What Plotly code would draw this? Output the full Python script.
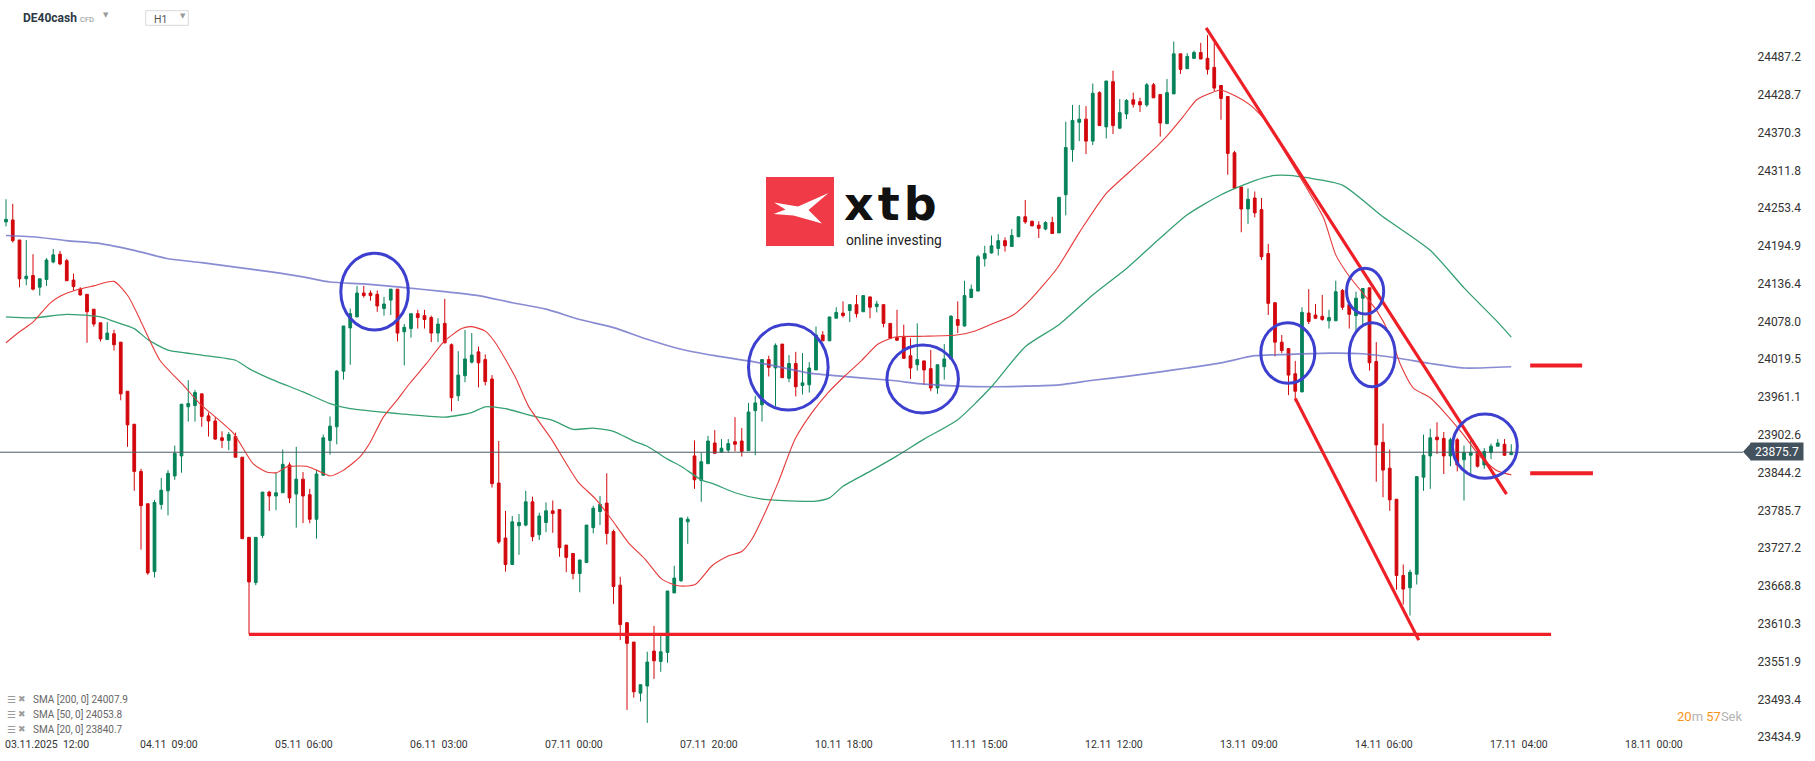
import plotly.graph_objects as go

# ---------------- data ----------------
open_ = [24232, 24235, 24204, 24144, 24149, 24131, 24143, 24170, 24182, 24172,
         24142, 24128, 24120, 24097, 24076, 24050, 24059, 24046, 23970, 23919,
         23846, 23796, 23691, 23795, 23816, 23839, 23870, 23946, 23948, 23966,
         23932, 23924, 23898, 23894, 23900, 23868, 23744, 23674, 23747, 23814,
         23808, 23813, 23856, 23811, 23834, 23810, 23772, 23840, 23894, 23915,
         24001, 24068, 24085, 24122, 24122, 24120, 24098, 24111, 24128, 24062,
         24067, 24090, 24087, 24084, 24060, 24075, 24042, 23963, 23994, 24015,
         24031, 24019, 23989, 23828, 23743, 23702, 23762, 23763, 23799, 23748,
         23767, 23785, 23787, 23732, 23719, 23688, 23705, 23759, 23784, 23797,
         23753, 23670, 23612, 23582, 23503, 23514, 23568, 23552, 23566, 23658,
         23677, 23768, 23870, 23832, 23858, 23890, 23876, 23879, 23892, 23893,
         23878, 23940, 23949, 24019, 24006, 24043, 23990, 24013, 23979, 23980,
         24003, 24057, 24048, 24083, 24091, 24095, 24104, 24093, 24116, 24101,
         24104, 24075, 24053, 24055, 24025, 24011, 24017, 24005, 23975, 24008,
         24020, 24081, 24071, 24115, 24125, 24175, 24184, 24191, 24203, 24194,
         24209, 24240, 24233, 24227, 24221, 24231, 24215, 24274, 24344, 24386,
         24391, 24357, 24432, 24379, 24449, 24377, 24399, 24421, 24418, 24413,
         24444, 24429, 24384, 24430, 24492, 24469, 24485, 24494, 24485, 24471,
         24443, 24426, 24339, 24286, 24252, 24269, 24251, 24183, 24107, 24046,
         24036, 23997, 23969, 24091, 24088, 24086, 24079, 24079, 24126, 24104,
         24087, 24114, 24130, 24016, 23891, 23851, 23803, 23685, 23666, 23687,
         23837, 23870, 23899, 23897, 23870, 23895, 23864, 23871, 23876, 23856,
         23875, 23885, 23888, 23872]
high = [24267, 24260, 24204, 24204, 24182, 24144, 24176, 24190, 24187, 24175,
        24152, 24131, 24120, 24097, 24076, 24077, 24065, 24046, 23970, 23919,
        23850, 23796, 23802, 23836, 23848, 23886, 23950, 23987, 23972, 23966,
        23937, 23930, 23908, 23907, 23906, 23868, 23744, 23744, 23814, 23816,
        23844, 23880, 23860, 23884, 23845, 23819, 23848, 23903, 23931, 24003,
        24071, 24098, 24133, 24133, 24126, 24126, 24116, 24128, 24128, 24074,
        24090, 24096, 24096, 24087, 24083, 24113, 24044, 24032, 24065, 24060,
        24039, 24027, 23995, 23893, 23785, 23777, 23780, 23816, 23807, 23782,
        23798, 23801, 23787, 23732, 23719, 23709, 23763, 23793, 23808, 23843,
        23756, 23683, 23612, 23582, 23516, 23567, 23607, 23592, 23661, 23700,
        23774, 23776, 23894, 23875, 23901, 23910, 23896, 23896, 23930, 23913,
        23952, 23963, 24019, 24025, 24044, 24043, 24026, 24031, 24029, 24015,
        24070, 24063, 24085, 24100, 24109, 24104, 24119, 24118, 24116, 24110,
        24104, 24075, 24096, 24073, 24052, 24075, 24017, 24034, 24011, 24043,
        24088, 24109, 24141, 24135, 24181, 24195, 24211, 24213, 24208, 24221,
        24240, 24266, 24234, 24233, 24233, 24240, 24270, 24387, 24413, 24413,
        24411, 24446, 24434, 24450, 24466, 24422, 24422, 24432, 24424, 24447,
        24447, 24429, 24453, 24511, 24492, 24493, 24497, 24509, 24521, 24509,
        24443, 24426, 24342, 24286, 24284, 24279, 24269, 24198, 24107, 24057,
        24036, 24017, 24100, 24128, 24105, 24119, 24096, 24141, 24128, 24104,
        24124, 24129, 24130, 24046, 23920, 23880, 23803, 23702, 23694, 23838,
        23903, 23912, 23922, 23907, 23898, 23898, 23886, 23895, 23885, 23882,
        23889, 23896, 23896, 23888]
low = [24225, 24200, 24131, 24134, 24126, 24118, 24133, 24168, 24165, 24141,
       24126, 24118, 24045, 24070, 24047, 24050, 24033, 23956, 23884, 23816,
       23725, 23686, 23682, 23787, 23778, 23833, 23844, 23923, 23923, 23915,
       23900, 23895, 23882, 23879, 23868, 23742, 23594, 23670, 23743, 23785,
       23786, 23813, 23797, 23759, 23766, 23766, 23742, 23839, 23872, 23888,
       23988, 24011, 24085, 24115, 24110, 24093, 24087, 24088, 24047, 24010,
       24053, 24067, 24067, 24046, 24046, 24044, 23939, 23955, 23984, 24013,
       23976, 23979, 23821, 23734, 23691, 23702, 23717, 23761, 23738, 23740,
       23752, 23751, 23714, 23690, 23679, 23659, 23705, 23750, 23763, 23733,
       23641, 23585, 23477, 23496, 23490, 23457, 23525, 23536, 23550, 23658,
       23675, 23734, 23819, 23799, 23858, 23874, 23875, 23875, 23877, 23869,
       23878, 23871, 23923, 23993, 23947, 23991, 23984, 23962, 23965, 23968,
       24003, 24048, 24048, 24083, 24084, 24077, 24084, 24093, 24083, 24092,
       24069, 24051, 24048, 24020, 23989, 24002, 23980, 23970, 23966, 23988,
       24020, 24060, 24070, 24115, 24125, 24163, 24183, 24180, 24186, 24194,
       24209, 24229, 24225, 24207, 24219, 24214, 24215, 24242, 24325, 24357,
       24337, 24351, 24381, 24361, 24368, 24376, 24391, 24409, 24402, 24410,
       24424, 24364, 24384, 24430, 24461, 24469, 24484, 24484, 24460, 24434,
       24390, 24305, 24284, 24216, 24229, 24239, 24173, 24088, 24024, 24029,
       23964, 23954, 23969, 24074, 24082, 24079, 24067, 24079, 24096, 24067,
       24063, 24073, 24002, 23830, 23806, 23785, 23663, 23640, 23623, 23671,
       23816, 23819, 23873, 23842, 23854, 23846, 23801, 23842, 23852, 23850,
       23865, 23885, 23870, 23871]
close = [24236, 24203, 24144, 24148, 24128, 24144, 24173, 24181, 24167, 24141,
         24132, 24119, 24093, 24074, 24051, 24060, 24042, 23966, 23918, 23846,
         23793, 23689, 23798, 23817, 23843, 23874, 23950, 23951, 23968, 23931,
         23924, 23896, 23894, 23903, 23868, 23742, 23675, 23744, 23814, 23808,
         23813, 23857, 23805, 23834, 23808, 23772, 23842, 23898, 23916, 24001,
         24071, 24090, 24122, 24118, 24118, 24102, 24105, 24128, 24060, 24069,
         24090, 24084, 24081, 24060, 24074, 24045, 23960, 23995, 24020, 24026,
         24014, 23985, 23827, 23737, 23702, 23768, 23767, 23799, 23745, 23777,
         23785, 23781, 23728, 23713, 23688, 23709, 23763, 23789, 23795, 23750,
         23668, 23609, 23580, 23505, 23516, 23551, 23553, 23567, 23661, 23681,
         23774, 23772, 23833, 23861, 23893, 23874, 23882, 23889, 23888, 23877,
         23938, 23952, 24019, 24007, 24041, 23991, 24013, 23977, 23983, 24006,
         24057, 24048, 24085, 24092, 24087, 24104, 24090, 24118, 24100, 24105,
         24075, 24052, 24049, 24021, 24006, 24019, 24003, 23975, 24011, 24020,
         24086, 24072, 24118, 24128, 24178, 24183, 24195, 24203, 24195, 24211,
         24240, 24232, 24226, 24222, 24231, 24214, 24270, 24347, 24389, 24391,
         24357, 24431, 24381, 24450, 24381, 24401, 24420, 24414, 24413, 24444,
         24424, 24385, 24432, 24492, 24468, 24488, 24494, 24484, 24468, 24439,
         24423, 24338, 24284, 24252, 24267, 24246, 24178, 24106, 24046, 24033,
         23995, 23970, 24092, 24078, 24083, 24081, 24084, 24124, 24100, 24089,
         24114, 24129, 24014, 23887, 23848, 23802, 23685, 23664, 23690, 23838,
         23871, 23898, 23895, 23870, 23895, 23856, 23875, 23875, 23854, 23877,
         23885, 23890, 23871, 23875.7]
candle_idx = list(range(len(open_)))

# moving averages sampled along the lines (candle index, value)
sma200_x = [0, 4, 9, 14, 19, 24, 29, 34, 39, 44, 48, 53, 58, 65, 70, 75, 80, 85, 90, 95,
            100, 105, 110, 114, 119, 124, 131, 136, 141, 146, 151, 156, 161, 166, 171,
            175, 180, 185, 190, 196, 201, 206, 211, 216, 223]
sma200_y = [24211, 24209, 24203, 24198.5, 24188, 24175, 24169, 24162, 24155, 24147,
            24139, 24136, 24131.5, 24124, 24118, 24107, 24097, 24081, 24068.5, 24050.5,
            24035, 24025, 24017, 24009, 23998, 23993, 23987, 23981, 23978, 23977,
            23978, 23980, 23987, 23993, 24000, 24006, 24014, 24025, 24027, 24029,
            24028, 24021.5, 24013, 24006, 24007.9]
sma50_x = [0, 4, 9, 14, 16, 19, 21, 24, 29, 34, 36, 39, 44, 48, 51, 58, 65, 69, 71, 74,
           78, 81, 84, 87, 90, 93, 95, 98, 100, 103, 105, 108, 112, 117, 120, 122, 124,
           128, 132, 136, 141, 146, 151, 156, 161, 166, 171, 175, 180, 185, 188, 190,
           193, 198, 204, 211, 216, 221, 223]
sma50_y = [24085, 24083.5, 24089, 24085, 24078, 24067, 24050, 24033.5, 24026, 24018,
           24005, 23990, 23969, 23951, 23943, 23935.5, 23930, 23937, 23946, 23943,
           23932, 23925, 23911, 23913, 23908, 23893, 23885, 23865, 23854, 23833,
           23826, 23813, 23803, 23800, 23800, 23805, 23823, 23846, 23870, 23896,
           23926, 23977, 24039, 24073, 24119, 24160, 24207, 24243, 24274, 24296,
           24304, 24304, 24300, 24289, 24240, 24188, 24130, 24077, 24053.8]
sma20_x = [0, 2, 4, 6.5, 8, 10.5, 13, 16, 18.1, 19.9, 22.8, 26.3, 28.7, 33.7, 36.6,
           38.6, 40.1, 41.6, 44.5, 46, 48, 50, 52.4, 53.9, 55.9, 57.9, 59.8, 62.3, 64.8,
           67.5, 69, 71, 72.5, 75.5, 77.4, 80.8, 84.8, 87.3, 89.7, 92.2, 94.7, 97.2,
           99.6, 102.1, 104.6, 107, 109, 110.5, 112, 114.4, 116.9, 119.4, 121.8, 124.3,
           126.7, 129.2, 131.7, 135.9, 140.8, 143.2, 145.8, 149.2, 151.7, 155.7, 159.1,
           163, 166.5, 170.5, 171.9, 174.4, 176.4, 178.4, 179.9, 182.3, 184.3, 186.8,
           189.3, 192.7, 195.2, 197, 199, 201, 203, 205, 206.6, 208.5, 211, 213.4,
           215.9, 218.4, 220.9, 223]
sma20_y = [24045, 24062, 24077, 24106, 24117, 24127, 24133, 24140, 24117, 24080,
           24018, 23979, 23951, 23905, 23858, 23845, 23844, 23853, 23854, 23848,
           23839, 23848, 23868, 23890, 23930, 23956, 23982, 24013, 24046, 24067,
           24070, 24063, 24045, 23991, 23947, 23896, 23829, 23804, 23772, 23736,
           23710, 23679, 23669, 23671, 23700, 23715, 23722, 23741, 23772, 23829,
           23896, 23937, 23968, 23994, 24017, 24043, 24054, 24055, 24057, 24062,
           24073, 24088, 24111, 24160, 24217, 24276, 24310, 24349, 24364, 24395,
           24421, 24431, 24436, 24426, 24413, 24387, 24343, 24284, 24238, 24181,
           24148, 24122, 24096, 24058, 24011, 23975, 23960, 23934, 23903, 23869,
           23847, 23840.7]

last_price = 23875.7
sma_legend = ["SMA [200, 0] 24007.9", "SMA [50, 0] 24053.8", "SMA [20, 0] 23840.7"]

x_tick_idx = [0, 20, 40, 60, 80, 100, 120, 140, 160, 180, 200, 220, 240]
x_tick_labels = ["03.11.2025  12:00", "04.11  09:00", "05.11  06:00", "06.11  03:00",
                 "07.11  00:00", "07.11  20:00", "10.11  18:00", "11.11  15:00",
                 "12.11  12:00", "13.11  09:00", "14.11  06:00", "17.11  04:00",
                 "18.11  00:00"]
y_tick_vals = [24487.2, 24428.7, 24370.3, 24311.8, 24253.4, 24194.9, 24136.4, 24078.0,
               24019.5, 23961.1, 23902.6, 23844.2, 23785.7, 23727.2, 23668.8, 23610.3,
               23551.9, 23493.4, 23434.9]

# drawn annotations (candle index, price)
support_line = [(36, 23594), (228.9, 23594)]
trend_upper = [(177.8, 24532), (222.3, 23811)]
trend_lower = [(191, 23959), (209.3, 23585)]
level_marks = [[(225.8, 24010), (233.5, 24010)], [(225.8, 23843), (235.1, 23843)]]
circles = [(49.6, 59.6, 24064.8, 24183.4), (110, 121.8, 23941, 24073.6),
           (130.5, 141.1, 23936.4, 24041.5), (185.9, 193.9, 23982.3, 24076),
           (198.6, 204.1, 24089.5, 24160.2), (199, 205.8, 23977, 24076),
           (214.3, 223.9, 23835.3, 23934.8)]

# ---------------- figure ----------------
W, H = 1815, 761
ML, MR, MT, MB = 0, 70, 0, 0
PW, PH = W - ML - MR, H - MT - MB
PITCH, X0 = 6.75, 6.0


def px(x):
    return (x - ML) / PW


def py(y):
    return 1 - (y - MT) / PH


GREEN = "#06825a"
RED = "#d2070c"
LINE_RED = "#ee1f26"
CIRCLE = "#3d40cf"
FONT = "Roboto"

fig = go.Figure()
fig.add_trace(go.Scatter(x=sma200_x, y=sma200_y, mode="lines", hoverinfo="skip",
                         line=dict(color="rgba(104,108,198,0.78)", width=1.7,
                                   shape="spline", smoothing=0.6)))
fig.add_trace(go.Scatter(x=sma50_x, y=sma50_y, mode="lines", hoverinfo="skip",
                         line=dict(color="#35a072", width=1.3, shape="spline", smoothing=0.6)))
fig.add_trace(go.Scatter(x=sma20_x, y=sma20_y, mode="lines", hoverinfo="skip",
                         line=dict(color="#e63a3a", width=1.1, shape="spline", smoothing=0.6)))
fig.add_trace(go.Candlestick(
    x=candle_idx, open=open_, high=high, low=low, close=close,
    increasing=dict(line=dict(color=GREEN, width=1), fillcolor=GREEN),
    decreasing=dict(line=dict(color=RED, width=1), fillcolor=RED),
    whiskerwidth=0, hoverinfo="skip"))

shapes = []
# current price line
shapes.append(dict(type="line", xref="paper", yref="y", x0=0, x1=px(1743),
                   y0=last_price, y1=last_price, line=dict(color="#4f5b66", width=1)))
# drawings
for (a, b) in [support_line, trend_upper, trend_lower]:
    shapes.append(dict(type="line", xref="x", yref="y", x0=a[0], y0=a[1], x1=b[0], y1=b[1],
                       line=dict(color=LINE_RED, width=3.2)))
for (a, b) in level_marks:
    shapes.append(dict(type="line", xref="x", yref="y", x0=a[0], y0=a[1], x1=b[0], y1=b[1],
                       line=dict(color=LINE_RED, width=4)))
for (x0, x1, y0, y1) in circles:
    shapes.append(dict(type="circle", xref="x", yref="y", x0=x0, x1=x1, y0=y0, y1=y1,
                       line=dict(color=CIRCLE, width=3)))


def path(pts):
    return "M " + " L ".join(f"{px(x):.5f},{py(y):.5f}" for x, y in pts) + " Z"


# xtb logo mark
shapes.append(dict(type="rect", xref="paper", yref="paper", x0=px(766), x1=px(834),
                   y0=py(246), y1=py(177), fillcolor="#f03a47", line=dict(width=0)))
shapes.append(dict(type="path", xref="paper", yref="paper",
                   path=path([(774, 202.5), (798, 206.5), (828.5, 193), (808.5, 210),
                              (822, 223.5), (793.5, 215.5), (773.5, 214), (785.5, 209.5)]),
                   fillcolor="white", line=dict(width=0)))
# H1 box
shapes.append(dict(type="rect", xref="paper", yref="paper", x0=px(145.7), x1=px(188.3),
                   y0=py(25.3), y1=py(10.7), line=dict(color="#d9d9d9", width=1)))
# price tag arrow
shapes.append(dict(type="path", xref="paper", yref="paper",
                   path=path([(1743, 451.7), (1751, 443), (1751, 460.5)]),
                   fillcolor="#44525e", line=dict(width=0)))

ann = []
for i, lab in zip(x_tick_idx, x_tick_labels):
    ann.append(dict(x=i, xref="x", y=py(744), yref="paper", text=lab.replace("  ", " \u00a0"),
                    xanchor="left", yanchor="middle", xshift=-3, showarrow=False,
                    font=dict(family=FONT, size=10.5, color="#333333")))
# price tag
ann.append(dict(x=px(1750.5), xref="paper", y=py(451.7), yref="paper", text=f"{last_price:.1f}",
                xanchor="left", yanchor="middle", showarrow=False, bgcolor="#44525e",
                width=52, height=17, align="center", borderpad=0,
                font=dict(family=FONT, size=12, color="white")))
# header
hdr = [
    dict(x=px(20.5), y=py(18.5), text="<b>DE40cash</b>", font=dict(family=FONT, size=12, color="#2c3944")),
    dict(x=px(78), y=py(19.5), text="CFD", font=dict(family=FONT, size=7.5, color="#8c8c8c")),
    dict(x=px(101), y=py(15.5), text="▼", font=dict(family="DejaVu Sans", size=7, color="#9a9a9a")),
    dict(x=px(151.5), y=py(19), text="H1", font=dict(family=FONT, size=10.5, color="#555555")),
    dict(x=px(177.5), y=py(16), text="▼", font=dict(family="DejaVu Sans", size=7, color="#9a9a9a")),
]
for a in hdr:
    a.update(xref="paper", yref="paper", xanchor="left", yanchor="middle", showarrow=False)
ann += hdr
# logo text (brand word above, tagline below, boxes kept apart)
ann.append(dict(x=px(844), y=py(231), xref="paper", yref="paper",
                text='<span style="letter-spacing:4px">xtb</span>',
                xanchor="left", yanchor="bottom", showarrow=False, borderpad=0, borderwidth=0,
                font=dict(family="DejaVu Sans", size=46, color="#111111", weight="bold")))
ann.append(dict(x=px(845.5), y=py(231.5), xref="paper", yref="paper", text="online investing",
                xanchor="left", yanchor="top", showarrow=False, borderpad=0, borderwidth=0,
                font=dict(family=FONT, size=13.8, color="#222222")))
# SMA legend
for k, txt in enumerate(sma_legend):
    yy = 699 + 15 * k
    ann.append(dict(x=px(5), y=py(yy), xref="paper", yref="paper", text="☰",
                    xanchor="left", yanchor="middle", showarrow=False,
                    font=dict(family="DejaVu Sans", size=10, color="#9c9c9c")))
    ann.append(dict(x=px(16), y=py(yy), xref="paper", yref="paper", text="✖",
                    xanchor="left", yanchor="middle", showarrow=False,
                    font=dict(family="DejaVu Sans", size=9, color="#9c9c9c")))
    ann.append(dict(x=px(31), y=py(yy), xref="paper", yref="paper", text=txt,
                    xanchor="left", yanchor="middle", showarrow=False,
                    font=dict(family=FONT, size=10, color="#666666")))
# timer
ann.append(dict(x=px(1745), y=py(716), xref="paper", yref="paper",
                text='<span style="color:#f7941d">20</span><span style="color:#b3b3b3">m</span> '
                     '<span style="color:#f7941d">57</span><span style="color:#b3b3b3">Sek</span>',
                xanchor="right", yanchor="middle", showarrow=False,
                font=dict(family=FONT, size=13)))

x_lo = (0 - X0) / PITCH
x_hi = (PW - X0) / PITCH
fig.update_layout(
    width=W, height=H, margin=dict(l=ML, r=MR, t=MT, b=MB, pad=0),
    paper_bgcolor="white", plot_bgcolor="white", showlegend=False, hovermode=False,
    boxgap=0.42, shapes=shapes, annotations=ann, font=dict(family=FONT),
    xaxis=dict(range=[x_lo, x_hi], showgrid=False, zeroline=False, showticklabels=False,
               showline=False, ticks="", rangeslider=dict(visible=False), fixedrange=True),
    yaxis=dict(range=[23398.0, 24575.3], side="right", tickvals=y_tick_vals,
               ticktext=[f"{v:.1f}" for v in y_tick_vals], showgrid=False, zeroline=False,
               showline=False, ticks="outside", ticklen=9, tickcolor="rgba(0,0,0,0)",
               tickfont=dict(family=FONT, size=12, color="#333333"), fixedrange=True),
)

fig.write_html("out.html", include_plotlyjs=True, config=dict(displayModeBar=False, staticPlot=True),
               post_script="document.body.style.margin='0';document.body.style.overflow='hidden';")
